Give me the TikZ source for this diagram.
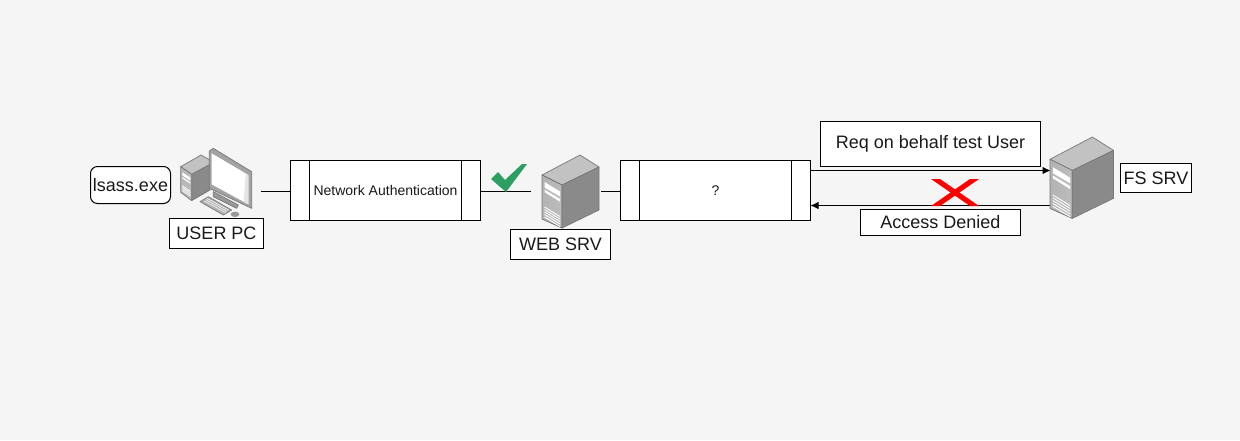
\documentclass[tikz,border=0pt]{standalone}
\usepackage{fontspec}
\setmainfont{Liberation Sans}
\usetikzlibrary{arrows.meta}
\definecolor{bgc}{HTML}{F5F5F5}
\definecolor{txt}{HTML}{1A1A1A}
\definecolor{okgreen}{HTML}{2D9F63}
\definecolor{edgec}{HTML}{77787A}
\tikzset{
  lbl/.style={draw=black,fill=white,line width=1pt,inner sep=0pt,outer sep=0pt,text=txt,font=\fontsize{18}{20}\selectfont,anchor=north west},
  proc/.style={draw=black,fill=white,line width=1pt,inner sep=0pt,outer sep=0pt,text=txt,font=\fontsize{14}{16}\selectfont,anchor=north west,minimum width=190pt,minimum height=60pt},
  wire/.style={draw=black,line width=1pt},
  arroww/.style={wire,-{Latex[length=8pt,width=7.5pt]}},
  face/.style={draw=edgec,line width=.7pt,line join=round},
}
\newcommand{\servericon}[3]{%
 \begin{scope}[shift={(#1,#2)},x=#3pt,y=-#3pt]
  \fill[face,fill=black!24] (0,20)--(38,0)--(57,12)--(20,30)--cycle;
  \fill[face,left color=black!30,right color=black!26] (0,20)--(20,30)--(20,73)--(0,64)--cycle;
  \fill[face,fill=black!46] (20,30)--(57,12)--(57,55)--(20,73)--cycle;
  \fill[white] (2.5,27)--(18,36.5)--(18,41.5)--(2.5,32.5)--cycle;
  \fill[white] (2.5,34.5)--(18,44)--(18,46.7)--(2.5,37)--cycle;
  \foreach \k in {0,2.5,5,7.5,10}{\draw[white,line width=.9pt] (2.5,52+\k)--(18,61.5+\k);}
 \end{scope}}
\begin{document}
\begin{tikzpicture}[x=1pt,y=-1pt]
\useasboundingbox (0,0) rectangle (1240,440);
\fill[bgc] (0,0) rectangle (1240,440);
\begin{scope}[shift={(.5,.5)}]
% named connector ends
\coordinate (pcport) at (260.5,191);
\coordinate (webin) at (530.5,191);
\coordinate (webout) at (600.5,191);
\coordinate (fsin) at (1050,170);
\coordinate (fsout) at (1050,205);
% process boxes
\node[proc] (auth) at (290,160) {Network Authentication};
\node[proc] (unknown) at (620,160) {?};
\foreach \n in {auth,unknown}{
  \draw[wire] ([xshift=19pt]\n.north west)--([xshift=19pt]\n.south west);
  \draw[wire] ([xshift=-19pt]\n.north east)--([xshift=-19pt]\n.south east);
}
% connectors
\draw[wire] (pcport)--(pcport-|auth.west);
\draw[wire] (webin-|auth.east)--(webin);
\draw[wire] (webout)--(webout-|unknown.west);
\draw[arroww] (fsin-|unknown.east)--(fsin);
\draw[arroww] (fsout)--(fsout-|unknown.east);
% labels
\node[lbl,minimum width=80pt,minimum height=37pt,rounded corners=7pt] (lsass) at (90,166) {lsass.exe};
\node[lbl,minimum width=94pt,minimum height=30pt] (userpc) at (169,218) {USER PC};
\node[lbl,minimum width=100pt,minimum height=30pt] (websrv) at (510,229) {WEB SRV};
\node[lbl,minimum width=220pt,minimum height=45pt] (req) at (820,121) {Req on behalf test User};
\node[lbl,minimum width=160pt,minimum height=26pt] (denied) at (860,209) {Access Denied};
\node[lbl,minimum width=71pt,minimum height=29pt] (fssrv) at (1120,163) {FS SRV};
\end{scope}
% PC icon
\begin{scope}[shift={(175,145)},x=.3333pt,y=-.3333pt]
  \fill[face,fill=black!24] (17,65)--(78,30)--(105,45)--(105,60)--(50,88)--cycle;
  \fill[face,fill=black!46] (50,88)--(105,58)--(105,135)--(50,167)--cycle;
  \fill[face,fill=black!28] (17,65)--(50,88)--(50,167)--(17,142)--cycle;
  \fill[white] (22,82)--(46,98)--(46,107)--(22,91)--cycle;
  \fill[white] (22,96)--(46,112)--(46,116)--(22,100)--cycle;
  \foreach \k in {0,5,10,15}{\draw[white,line width=.7pt] (22,122+\k)--(46,138+\k);}
  \fill[face,fill=black!40] (115,140)--(190,180)--(185,190)--(115,155)--cycle;
  \fill[face,fill=black!36] (103,18)--(115,10)--(230,80)--(230,190)--(103,130)--cycle;
  \fill[white] (110,25)--(220,90)--(220,178)--(110,118)--cycle;
  \fill[black!10] (212,86)--(220,90)--(220,178)--(206,171)--cycle;
  \fill[face,fill=black!30] (75,170)--(100,155)--(170,195)--(145,210)--cycle;
  \foreach \k in {0,1,2}{\draw[white,line width=.5pt] (88+\k*4,168-\k*4)--(152+\k*4,203-\k*4);}
  \fill[black!40] (180,208) ellipse [x radius=13,y radius=8];
\end{scope}
\servericon{542}{155}{1}
\servericon{1050}{137}{1.115}
% check mark
\fill[okgreen] (491,179)--(498,172)--(505,180)--(522,164)--(527,164)--(506,192)--cycle;
% cross
\fill[red] (931,179)--(940,179)--(979,206)--(970,206)--cycle;
\fill[red] (979,179)--(970,179)--(931,206)--(940,206)--cycle;
\end{tikzpicture}
\end{document}
